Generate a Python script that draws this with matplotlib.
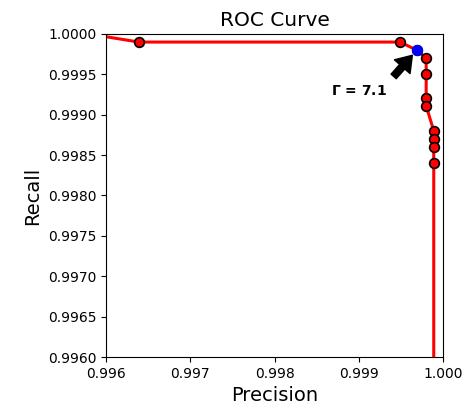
import matplotlib
matplotlib.use('Agg')
from matplotlib import pyplot as plt

# precision / recall points
precision = [0.9958, 0.99639, 0.99949, 0.99969, 0.99980, 0.99980, 0.99980, 0.99980,
             0.99989, 0.99989, 0.99989, 0.99989, 0.99989]
recall = [1.0, 0.99990, 0.99990, 0.99980, 0.99970, 0.99950, 0.99921, 0.99911,
          0.99880, 0.99870, 0.99860, 0.99840, 0.9950]
best_p, best_r = 0.99969, 0.99980
best_label = r'$\mathbf{\Gamma}$ = 7.1'

fig = plt.figure(figsize=(4.72, 4.08), dpi=100)
ax = fig.add_axes([0.2246, 0.125, 0.714, 0.7917])

ax.plot(precision, recall, color='red', lw=2.2, marker='o', ms=7,
        mfc='red', mec='black', mew=1.2, zorder=2)
ax.plot([best_p], [best_r], 'o', color='blue', ms=7, zorder=3)

ax.annotate(best_label, xy=(best_p, best_r), xytext=(0.99900, 0.99929),
            ha='center', va='center', fontsize=10, fontweight='bold',
            arrowprops=dict(facecolor='black', edgecolor='black', shrink=0.15,
                            width=5, headwidth=15, headlength=11))

ax.set_xlim(0.996, 1.000)
ax.set_ylim(0.996, 1.000)
ax.set_xticks([0.996, 0.997, 0.998, 0.999, 1.000])
ax.set_xticklabels(['0.996', '0.997', '0.998', '0.999', '1.000'])
ax.set_yticks([0.996 + 0.0005 * i for i in range(9)])
ax.set_yticklabels(['%.4f' % (0.996 + 0.0005 * i) for i in range(9)])
ax.tick_params(labelsize=10)
ax.set_xlabel('Precision', fontsize=14)
ax.set_ylabel('Recall', fontsize=14)
ax.set_title('ROC Curve', fontsize=14.5)

fig.savefig('out.png', dpi=100)
